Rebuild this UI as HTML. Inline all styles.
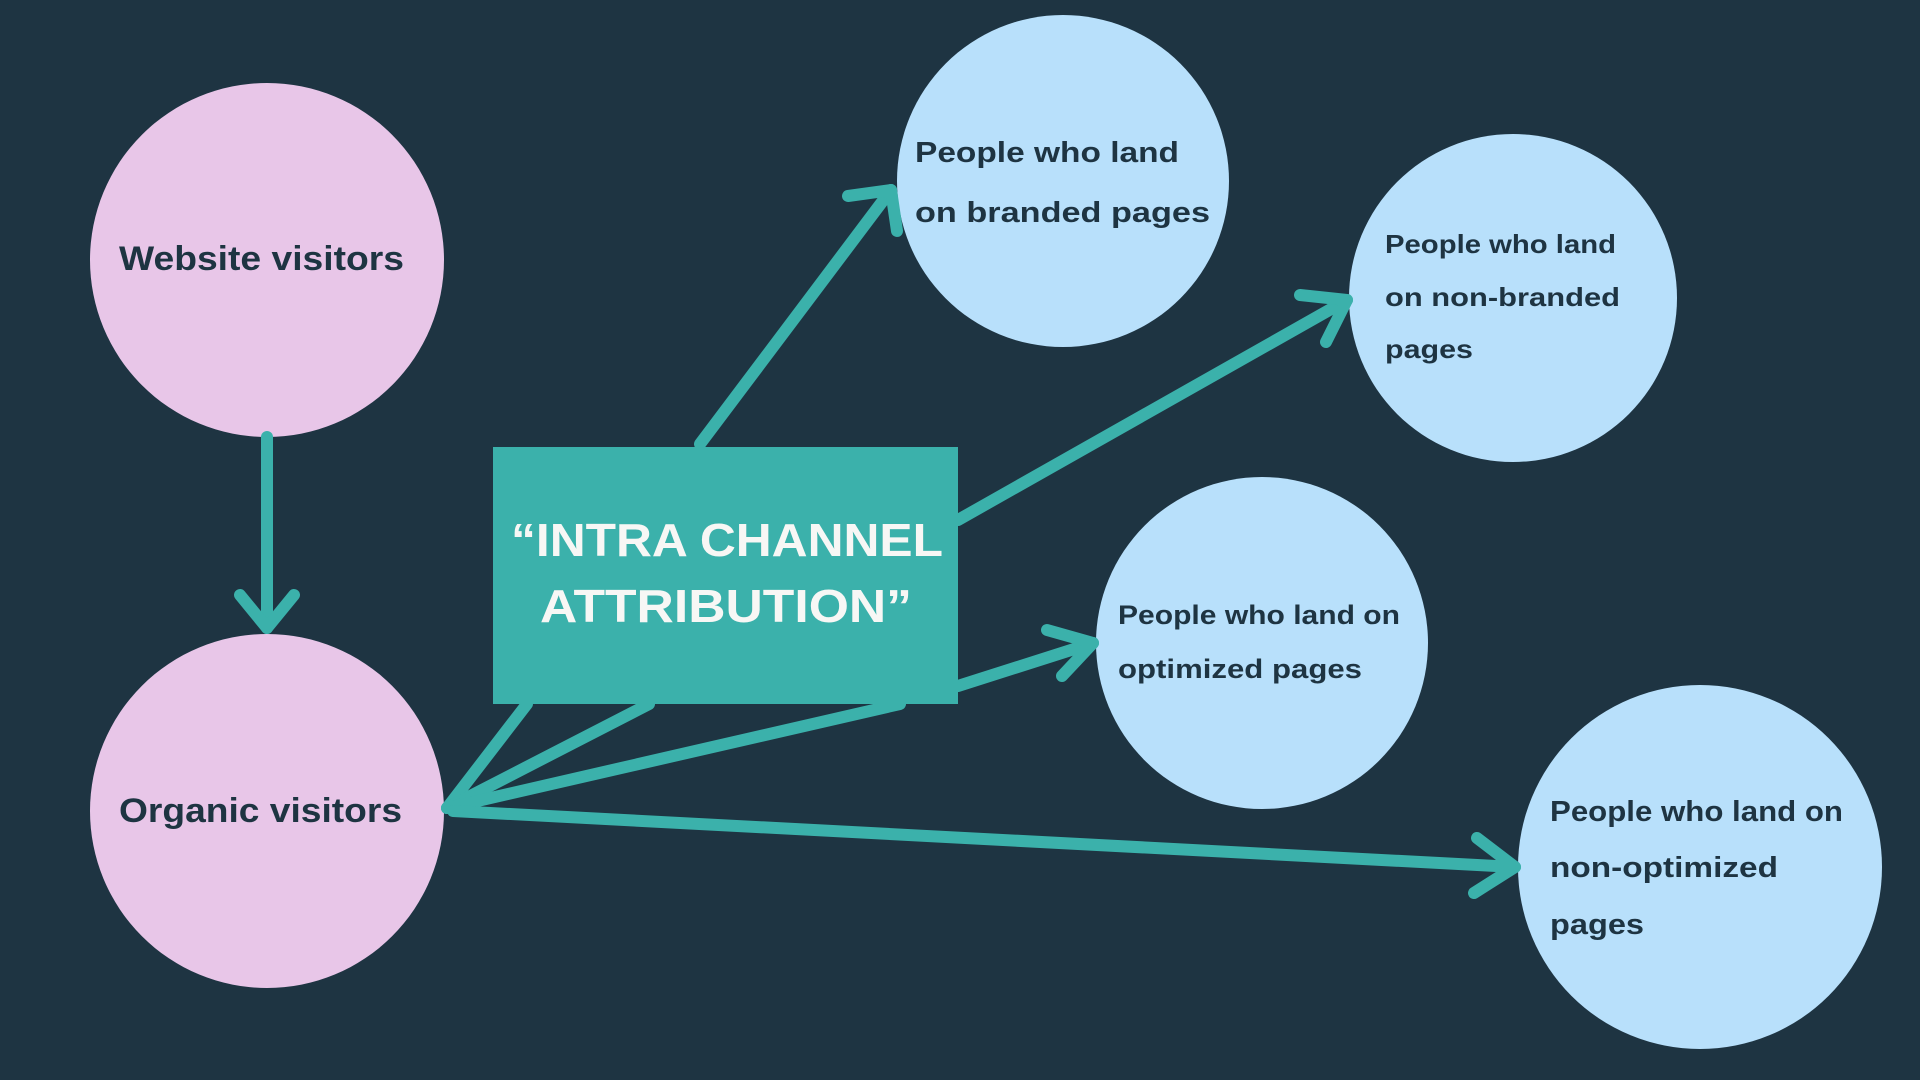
<!DOCTYPE html>
<html><head><meta charset="utf-8"><style>
html,body{margin:0;padding:0;background:#1e3442;}
svg{display:block}
text{font-family:"Liberation Sans",sans-serif;font-weight:bold;}
</style></head><body>
<svg width="1920" height="1080" viewBox="0 0 1920 1080" xmlns="http://www.w3.org/2000/svg">
<rect width="1920" height="1080" fill="#1e3442"/>
<g fill="#e8c6e8">
<circle cx="267" cy="260" r="177"/>
<circle cx="267" cy="811" r="177"/>
</g>
<g fill="#b8e0fb">
<circle cx="1063" cy="181" r="166"/>
<circle cx="1513" cy="298" r="164"/>
<circle cx="1262" cy="643" r="166"/>
<circle cx="1700" cy="867" r="182"/>
</g>
<g stroke="#3bb1ab" stroke-width="12" fill="none" stroke-linecap="round" stroke-linejoin="round">
<line x1="267" y1="437" x2="267" y2="628"/>
<polyline points="240,595 267,628 294,595"/>
<line x1="700" y1="444" x2="891" y2="190"/>
<polyline points="848,196 891,190 897,231"/>
<line x1="958" y1="520" x2="1347" y2="300"/>
<polyline points="1300,295 1347,300 1326,342"/>
<line x1="958" y1="686" x2="1093" y2="643"/>
<polyline points="1047,630 1093,643 1062,676"/>
<line x1="447" y1="808" x2="527" y2="704"/>
<line x1="447" y1="808" x2="649" y2="704"/>
<line x1="447" y1="808" x2="900" y2="704"/>
<line x1="453" y1="811" x2="1515" y2="867"/>
<polyline points="1477,838 1515,867 1474,893"/>
</g>
<rect x="493" y="447" width="465" height="257" fill="#3bb1ab"/>
<g fill="#1e3442">
<text x="119" y="270" font-size="34" textLength="285" lengthAdjust="spacingAndGlyphs">Website visitors</text>
<text x="119" y="822" font-size="34" textLength="283" lengthAdjust="spacingAndGlyphs">Organic visitors</text>
<text x="915" y="162" font-size="29" textLength="264" lengthAdjust="spacingAndGlyphs">People who land</text>
<text x="915" y="222" font-size="29" textLength="295" lengthAdjust="spacingAndGlyphs">on branded pages</text>
<text x="1385" y="253" font-size="26" textLength="231" lengthAdjust="spacingAndGlyphs">People who land</text>
<text x="1385" y="306" font-size="26" textLength="235" lengthAdjust="spacingAndGlyphs">on non-branded</text>
<text x="1385" y="358" font-size="26" textLength="88" lengthAdjust="spacingAndGlyphs">pages</text>
<text x="1118" y="624" font-size="27" textLength="282" lengthAdjust="spacingAndGlyphs">People who land on</text>
<text x="1118" y="678" font-size="27" textLength="244" lengthAdjust="spacingAndGlyphs">optimized pages</text>
<text x="1550" y="821" font-size="29" textLength="293" lengthAdjust="spacingAndGlyphs">People who land on</text>
<text x="1550" y="877" font-size="29" textLength="228" lengthAdjust="spacingAndGlyphs">non-optimized</text>
<text x="1550" y="934" font-size="29" textLength="94" lengthAdjust="spacingAndGlyphs">pages</text>
</g>
<g fill="#f7f7f5">
<text x="511" y="556" font-size="46" font-weight="900" textLength="432" lengthAdjust="spacingAndGlyphs">“INTRA CHANNEL</text>
<text x="540" y="622" font-size="46" font-weight="900" textLength="372" lengthAdjust="spacingAndGlyphs">ATTRIBUTION”</text>
</g>
</svg>
</body></html>
